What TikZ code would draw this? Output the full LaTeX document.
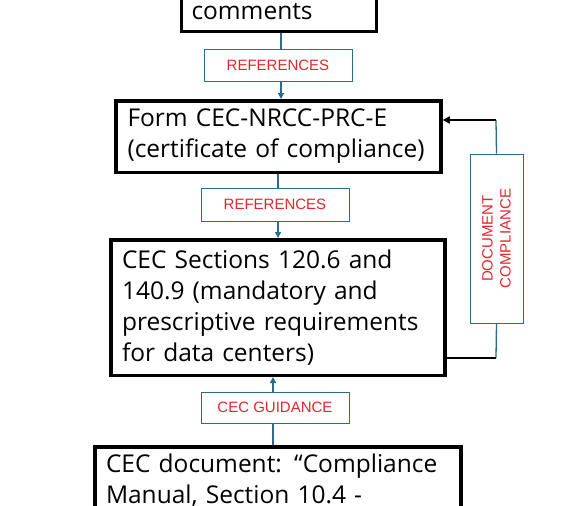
\documentclass[tikz,border=0pt]{standalone}
\usepackage{fontspec}
\setmainfont{Open Sans}
\newfontfamily\tagfont{Liberation Sans}
\usetikzlibrary{arrows.meta}
\definecolor{linkblue}{HTML}{2E6A8A}
\definecolor{tagred}{HTML}{E3262E}
\tikzset{
  mainbox/.style={draw, line width=3.5pt, fill=white, align=left, font=\fontsize{24.5}{31}\selectfont},
  tagbox/.style={draw=linkblue, line width=0.8pt, fill=white, text=tagred, font=\tagfont\fontsize{15}{17}\selectfont, minimum width=148pt, minimum height=32pt, inner sep=0pt},
  link/.style={draw=linkblue, line width=1.3pt},
  linkarrow/.style={link, -{Triangle[length=6pt,width=6pt]}},
  backline/.style={line width=1.5pt},
}

\begin{document}
\begin{tikzpicture}[x=1pt,y=-1pt]
        \clip (0,0) rectangle (582,506);

        % Boxes
        \node[mainbox, text width=175pt, inner xsep=10pt, inner ysep=6pt, text height=90pt, text depth=6pt, anchor=south] (comments) at (279,33) {comments};
        \node[mainbox, text width=302pt, inner xsep=11.5pt, minimum height=71.5pt] (form) at (278.5,136.5) {Form CEC-NRCC-PRC-E\\(certificate of compliance)};
        \node[mainbox, text width=312pt, inner xsep=11pt, minimum height=135.5pt] (sections) at (278,307.5) {CEC Sections 120.6 and\\140.9 (mandatory and\\prescriptive requirements\\for data centers)};
        \node[mainbox, text width=344pt, inner xsep=11pt, inner ysep=8pt, text height=18pt, text depth=80pt, anchor=north] (manual) at (278,445) {CEC document: “Compliance\\Manual, Section 10.4 -};

        % Labels
        \node[tagbox] (ref1) at (278,65) {REFERENCES};
        \node[tagbox, minimum height=33pt] (ref2) at (275,204.5) {REFERENCES};
        \node[tagbox, minimum height=31pt] (guide) at (275,407.5) {CEC GUIDANCE};
        \node[tagbox, rotate=90, minimum width=169pt, minimum height=53pt, align=center, font=\tagfont\fontsize{15}{18}\selectfont] (doccomp) at (496.5,238.5) {DOCUMENT\\COMPLIANCE};

        % Lines
        \draw[link] ([xshift=3pt]ref1.north) -- ([xshift=3pt]ref1.north |- comments.south);
        \draw[linkarrow] ([xshift=3pt]ref1.south) -- ([xshift=3pt]ref1.south |- form.north);
        \draw[link] ([xshift=3pt]ref2.north) -- ([xshift=3pt]ref2.north |- form.south);
        \draw[linkarrow] ([xshift=3pt]ref2.south) -- ([xshift=3pt]ref2.south |- sections.north);
        \draw[link] ([xshift=-2pt]guide.south) -- ([xshift=-2pt]guide.south |- manual.north);
        \draw[linkarrow] ([xshift=-2pt]guide.north) -- ([xshift=-2pt]guide.north |- sections.south);

        % Feedback
        \coordinate (fbin) at (496,120);
        \coordinate (fbout) at (496,358);
        \draw[link] (doccomp.east) -- (fbin);
        \draw[backline, -{Triangle[length=7pt,width=7pt]}] (fbin) -- (fbin -| form.east);
        \draw[link] (doccomp.west) -- (fbout);
        \draw[backline] (fbout) -- (fbout -| sections.east);
    \end{tikzpicture}
\end{document}
